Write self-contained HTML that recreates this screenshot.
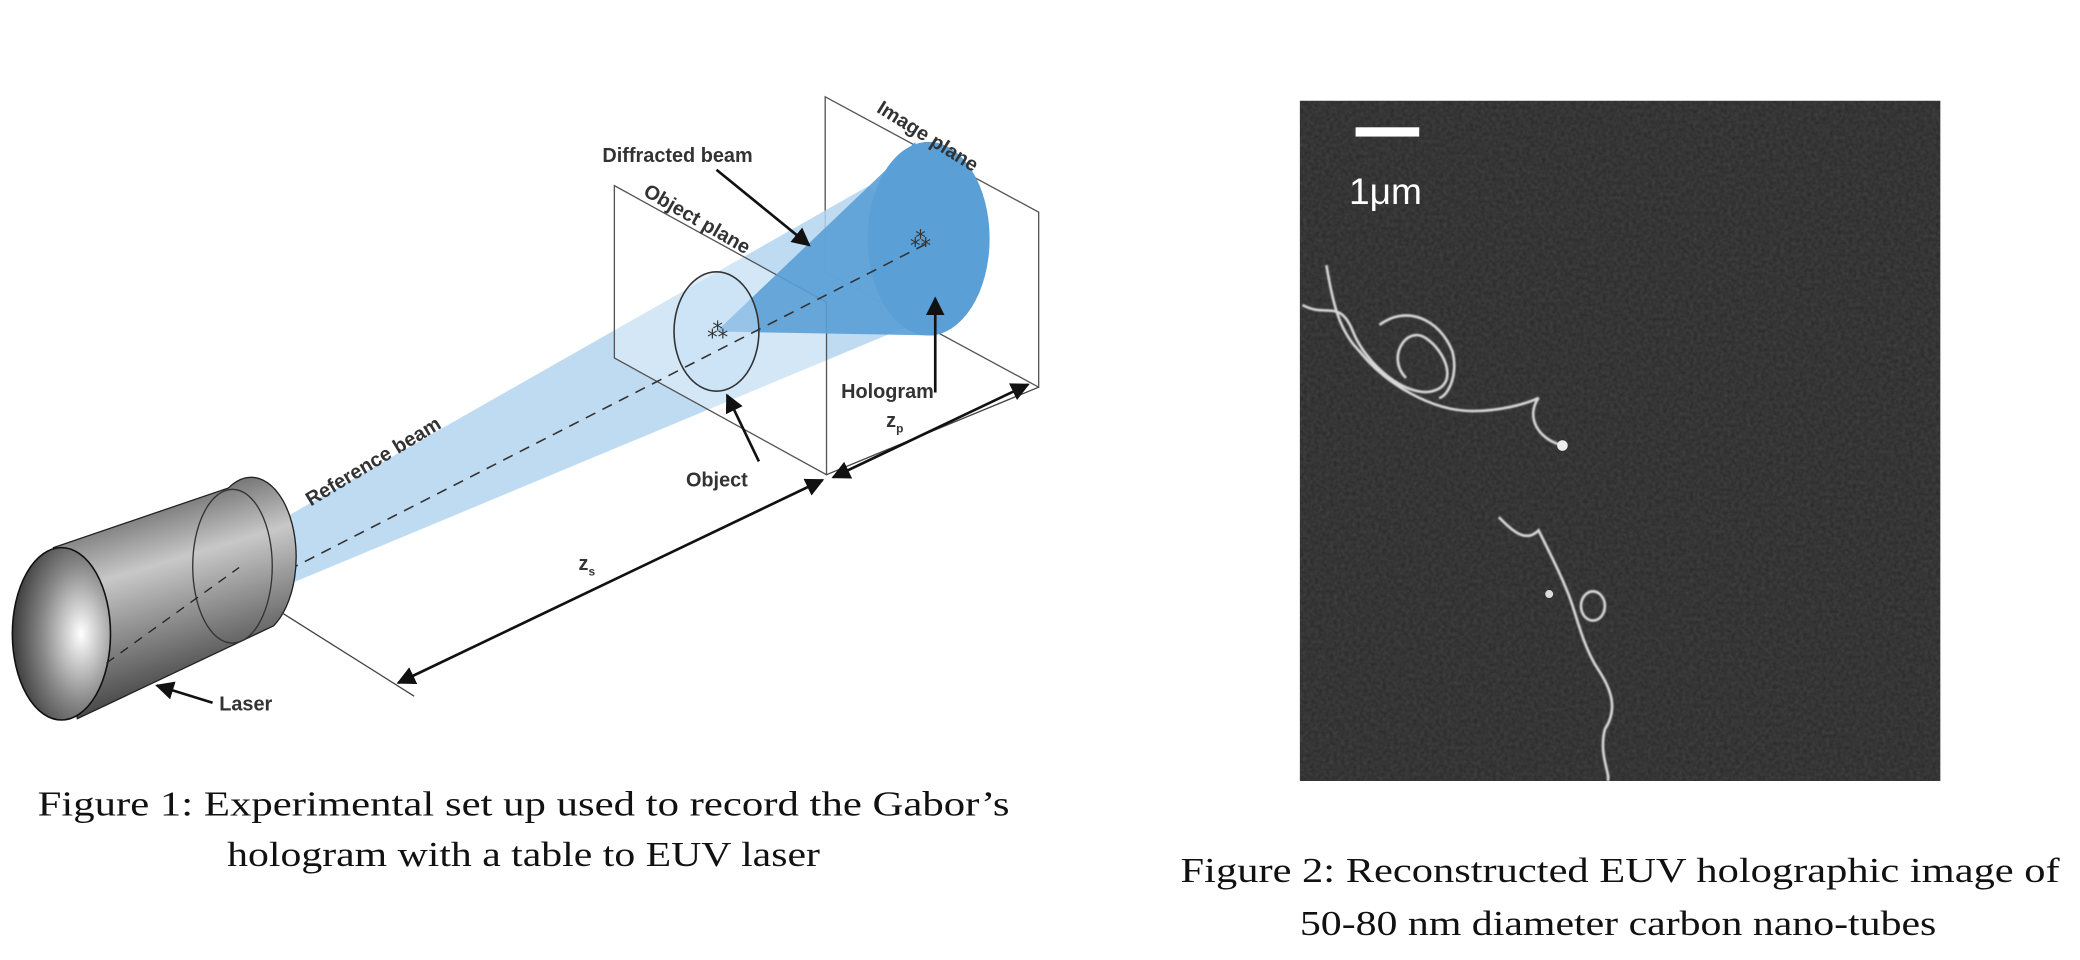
<!DOCTYPE html>
<html><head><meta charset="utf-8"><style>
html,body{margin:0;padding:0;background:#fff;width:2080px;height:960px;overflow:hidden}
svg{display:block}
.lbl{font-family:"Liberation Sans",sans-serif;font-weight:bold;font-size:15px;fill:#333}
.cap{font-family:"Liberation Serif",serif;font-size:26px;fill:#111}
</style></head><body>
<svg width="2080" height="960" viewBox="0 0 1568 724" xmlns="http://www.w3.org/2000/svg">
<defs>
<linearGradient id="cyl" x1="0" y1="0" x2="0.3" y2="1">
<stop offset="0" stop-color="#2a2a2a"/><stop offset="0.45" stop-color="#c8c8c8"/><stop offset="1" stop-color="#3a3a3a"/>
</linearGradient>
<radialGradient id="face" cx="0.7" cy="0.5" r="0.8">
<stop offset="0" stop-color="#ffffff"/><stop offset="0.5" stop-color="#888"/><stop offset="1" stop-color="#222"/>
</radialGradient>
<marker id="ah" viewBox="0 0 10 10" refX="9" refY="5" markerWidth="7" markerHeight="7" orient="auto-start-reverse"><path d="M0,0L10,5L0,10z" fill="#111"/></marker>
<filter id="blur"><feGaussianBlur stdDeviation="0.6"/></filter>
<filter id="noise" x="0" y="0" width="1" height="1">
<feTurbulence type="fractalNoise" baseFrequency="0.35" numOctaves="2" seed="3"/>
<feColorMatrix type="matrix" values="0 0 0 0 0.5  0 0 0 0 0.5  0 0 0 0 0.5  0 0 0 0.18 0"/>
</filter>
</defs>

<g>
<polygon points="622,73 783,160 783,292 622,205" fill="#fff" stroke="#555" stroke-width="1"/>
<polygon points="180,410 655,140 735,225 200,448" fill="#b3d5f0" opacity="0.85"/>
<polygon points="463,140 623,228 623,358 463,270" fill="#fff" fill-opacity="0.35" stroke="#555" stroke-width="1"/>
<polygon points="540,250 690,107 705,253" fill="#5a9fd6" opacity="0.9"/>
<ellipse cx="700" cy="180" rx="46" ry="73" fill="#5a9fd6"/>
<ellipse cx="540" cy="250" rx="32" ry="45" fill="#c6e0f5" fill-opacity="0.5" stroke="#333" stroke-width="1.2"/>
<line x1="80" y1="500" x2="700" y2="183" stroke="#333" stroke-width="1.2" stroke-dasharray="8,6"/>
<text x="533" y="255" font-size="16" fill="#333" font-family="Liberation Sans, sans-serif">⁂</text>
<text x="686" y="186" font-size="16" fill="#333" font-family="Liberation Sans, sans-serif">⁂</text>
<g>
<path d="M40,413 L172,368 A34,60 0 0 1 206,472 L58,542 Z" fill="url(#cyl)" stroke="#222" stroke-width="1"/>
<ellipse cx="175" cy="427" rx="30" ry="58" fill="none" stroke="#333" stroke-width="1"/>
<ellipse cx="46" cy="478" rx="37" ry="65" fill="url(#face)" stroke="#111" stroke-width="1.2"/>
<line x1="80" y1="500" x2="180" y2="428" stroke="#222" stroke-width="1" stroke-dasharray="7,6"/>
</g>
<line x1="212" y1="462" x2="312" y2="525" stroke="#444" stroke-width="1"/>
<line x1="623" y1="358" x2="783" y2="292" stroke="#444" stroke-width="1"/>
<line x1="300" y1="515" x2="620" y2="362" stroke="#111" stroke-width="2" marker-start="url(#ah)" marker-end="url(#ah)"/>
<line x1="628" y1="360" x2="775" y2="290" stroke="#111" stroke-width="2" marker-start="url(#ah)" marker-end="url(#ah)"/>
<line x1="540" y1="128" x2="610" y2="185" stroke="#111" stroke-width="2" marker-end="url(#ah)"/>
<line x1="705" y1="296" x2="705" y2="225" stroke="#111" stroke-width="2" marker-end="url(#ah)"/>
<line x1="572" y1="348" x2="548" y2="298" stroke="#111" stroke-width="2" marker-end="url(#ah)"/>
<line x1="160" y1="530" x2="118" y2="517" stroke="#111" stroke-width="2" marker-end="url(#ah)"/>
<text class="lbl" x="454" y="122">Diffracted beam</text>
<text class="lbl" transform="translate(484,147) rotate(30)">Object plane</text>
<text class="lbl" transform="translate(660,84) rotate(32)">Image plane</text>
<text class="lbl" transform="translate(234,382) rotate(-31)">Reference beam</text>
<text class="lbl" x="517" y="367">Object</text>
<text class="lbl" x="634" y="300">Hologram</text>
<text class="lbl" x="668" y="322">z<tspan font-size="9" dy="4">p</tspan></text>
<text class="lbl" x="436" y="430">z<tspan font-size="9" dy="4">s</tspan></text>
<text class="lbl" x="165" y="536">Laser</text>
</g>

<g>
<rect x="980" y="76" width="483" height="513" fill="#282828"/>
<rect x="980" y="76" width="483" height="513" filter="url(#noise)"/>
<g filter="url(#blur)" fill="none" stroke="#d8d8d8" stroke-width="2">
<path d="M982,230 C1000,240 1010,225 1020,250 C1030,275 1060,300 1080,295 C1100,290 1090,265 1075,255 C1060,245 1045,270 1060,285"/>
<path d="M1000,200 C1005,230 1010,250 1025,265 C1045,290 1080,310 1110,310 C1130,310 1150,305 1160,300"/>
<path d="M1160,300 C1150,315 1160,330 1175,335"/>
<path d="M1040,245 C1060,230 1085,240 1095,265 C1100,285 1090,300 1085,300"/>
<path d="M1130,390 C1140,400 1150,410 1160,400 C1170,420 1180,440 1185,455 C1190,470 1195,490 1205,505 C1215,520 1220,535 1210,550 C1205,570 1215,585 1212,589"/>
<ellipse cx="1201" cy="457" rx="9" ry="11"/>
</g>
<circle cx="1178" cy="336" r="4" fill="#eee"/>
<circle cx="1168" cy="448" r="3" fill="#ddd"/>
<rect x="1022" y="96" width="48" height="7" fill="#fff"/>
<text x="1017" y="154" font-family="Liberation Sans, sans-serif" font-size="28" fill="#fff">1μm</text>
</g>

<text class="cap" x="28" y="615" textLength="733" lengthAdjust="spacingAndGlyphs">Figure 1:  Experimental set up used to record  the Gabor’s</text>
<text class="cap" x="171" y="653" textLength="447" lengthAdjust="spacingAndGlyphs">hologram with a table to EUV laser</text>
<text class="cap" x="890" y="665" textLength="663" lengthAdjust="spacingAndGlyphs">Figure 2:  Reconstructed EUV holographic image of</text>
<text class="cap" x="980" y="705" textLength="480" lengthAdjust="spacingAndGlyphs">50-80 nm diameter carbon nano-tubes</text>
</svg>
</body></html>
